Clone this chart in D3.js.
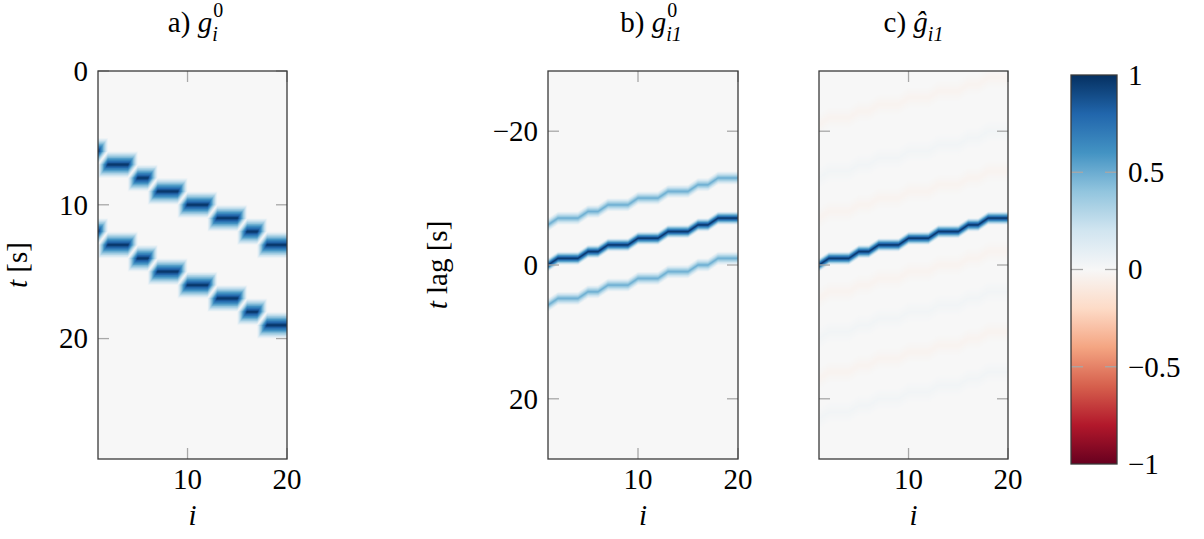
<!DOCTYPE html>
<html>
<head>
<meta charset="utf-8">
<script src="https://cdn.jsdelivr.net/npm/d3@7"></script>
<style>
body { margin: 0; background: #fff; }
svg text { font-family: "Liberation Serif", "DejaVu Serif", serif; fill: #000; }
</style>
</head>
<body>
<div id="chart"></div>
<script>
var width = 1204
var height = 539

// column index i
var cols = [1, 2, 3, 4, 5, 6, 7, 8, 9, 10, 11, 12, 13, 14, 15, 16, 17, 18, 19, 20]
// a) arrival time [s] of the first pulse in each column
var delays = [6, 7, 7, 7, 8, 8, 9, 9, 9, 10, 10, 10, 11, 11, 11, 12, 12, 13, 13, 13]
// the second pulse arrives this much later
var pulseShift = [0, 6]

// b) lag of the main ridge per column
var lagMain = [0, -1, -1, -1, -2, -2, -3, -3, -3, -4, -4, -4, -5, -5, -5, -6, -6, -7, -7, -7]
var ridgeShift = [0, -6, 6]
var ridgePeak = [1, 0.5, 0.5]

// c) estimate: main ridge plus faint ripples
var estShift = [-21, -13, -7, 5, 11, 17, 23, 0]
var estPeak = [-0.03, 0.03, -0.03, -0.03, 0.03, -0.03, 0.03, 1]
var estWidth = [1.6, 1.6, 1.6, 1.6, 1.6, 1.6, 1.6, 1]

var xTicks = [10, 20]
var yTicksA = [0, 10, 20]
var yTicksB = [-20, 0, 20]
var cbTicks = [1, 0.5, 0, -0.5, -1]
var cbLabels = ["1", "0.5", "0", "\u22120.5", "\u22121"]

var svg = d3.select("#chart")
  .append("svg")
    .attr("width", width)
    .attr("height", height)
    .style("font-family", "'Liberation Serif', 'DejaVu Serif', serif")

// RdBu, blue for positive, neutral grey at zero
var rdbu = d3.schemeRdBu[11]
var color = d3.scaleLinear()
  .domain(d3.range(11).map(function(k) { return -1 + k * 0.2 }))
  .range(rdbu)
  .interpolate(d3.interpolateRgb)
var nLev = 16
var levels = d3.range(nLev)

var fs = 29
var tickCol = "#a8a8a8"
var frameCol = "#3a3a3a"

function makePanel(id, x0, x1, y0, y1, ydom) {
  var p = {}
  p.x = d3.scaleLinear().domain([1, 20]).range([x0, x1])
  p.y = d3.scaleLinear().domain(ydom).range([y0, y1])
  svg.append("clipPath").attr("id", id)
    .append("rect").attr("x", x0).attr("y", y0).attr("width", x1 - x0).attr("height", y1 - y0)
  p.g = svg.append("g").attr("clip-path", "url(#" + id + ")")
  p.g.append("rect")
    .attr("x", x0).attr("y", y0).attr("width", x1 - x0).attr("height", y1 - y0)
    .attr("fill", color(0))
  p.x0 = x0; p.x1 = x1; p.y0 = y0; p.y1 = y1
  return p
}

function frame(p, yTicks, showY) {
  var tl = 11
  var t = svg.append("g")
  yTicks.forEach(function(v) {
    var yy = p.y(v)
    t.append("line").attr("x1", p.x0).attr("x2", p.x0 + tl).attr("y1", yy).attr("y2", yy)
      .attr("stroke", tickCol).attr("stroke-width", 1.3)
    t.append("line").attr("x1", p.x1).attr("x2", p.x1 - tl).attr("y1", yy).attr("y2", yy)
      .attr("stroke", tickCol).attr("stroke-width", 1.3)
    if (showY) {
      t.append("text").attr("x", p.x0 - 10).attr("y", yy).attr("dy", "0.34em")
        .attr("text-anchor", "end").style("font-size", fs + "px")
        .text(v < 0 ? "\u2212" + (-v) : v)
    }
  })
  xTicks.forEach(function(v) {
    var xx = p.x(v)
    t.append("line").attr("x1", xx).attr("x2", xx).attr("y1", p.y0).attr("y2", p.y0 + tl)
      .attr("stroke", tickCol).attr("stroke-width", 1.3)
    t.append("line").attr("x1", xx).attr("x2", xx).attr("y1", p.y1).attr("y2", p.y1 - tl)
      .attr("stroke", tickCol).attr("stroke-width", 1.3)
    t.append("text").attr("x", xx).attr("y", p.y1 + 30)
      .attr("text-anchor", "middle").style("font-size", fs + "px").text(v)
  })
  t.append("rect").attr("x", p.x0).attr("y", p.y0)
    .attr("width", p.x1 - p.x0).attr("height", p.y1 - p.y0)
    .attr("fill", "none").attr("stroke", frameCol).attr("stroke-width", 1.3)
  t.append("text").attr("x", (p.x0 + p.x1) / 2).attr("y", 525)
    .attr("text-anchor", "middle").style("font-size", fs + "px").style("font-style", "italic").text("i")
}

function title(cx, label, base, sup, sub) {
  var g = svg.append("g")
  var tx = g.append("text").attr("x", 0).attr("y", 32).style("font-size", fs + "px")
  tx.append("tspan").text(label + " ")
  tx.append("tspan").style("font-style", "italic").text(base)
  var w = tx.node().getComputedTextLength()
  var w2 = 0
  if (sup) {
    var s1 = g.append("text").attr("x", w + 1).attr("y", 17).style("font-size", "20px").text(sup)
    w2 = Math.max(w2, s1.node().getComputedTextLength() + 1)
  }
  if (sub) {
    var s2 = g.append("text").attr("x", w).attr("y", 41).style("font-size", "20px")
      .style("font-style", "italic").text(sub)
    w2 = Math.max(w2, s2.node().getComputedTextLength())
  }
  g.attr("transform", "translate(" + (cx - (w + w2) / 2) + ",0)")
}

// ---- panel a ----
var pa = makePanel("clipA", 98, 287, 71, 459, [0, 29])
var runs = []
cols.forEach(function(c, k) {
  if (k > 0 && delays[k] === delays[k - 1]) runs[runs.length - 1].b = c
  else runs.push({ a: c, b: c, d: delays[k] })
})
pulseShift.forEach(function(sh) {
  runs.forEach(function(r) {
    levels.forEach(function(k) {
      var s = 1 - k / nLev
      var d = r.d + sh
      var pts = [[r.b + s, d], [r.b + s, d - s], [r.a, d - s], [r.a - s, d], [r.a - s, d + s], [r.b, d + s]]
      pa.g.append("path")
        .attr("d", "M" + pts.map(function(q) { return pa.x(q[0]) + "," + pa.y(q[1]) }).join("L") + "Z")
        .attr("fill", color((k + 0.5) / nLev))
    })
  })
})
frame(pa, yTicksA, true)

// ---- ridges as nested bands ----
function ridges(p, shifts, peaks, widths) {
  shifts.forEach(function(sh, j) {
    levels.forEach(function(k) {
      var s = widths[j] * (1 - k / nLev)
      var area = d3.area()
        .x(function(c) { return p.x(c) })
        .y0(function(c, n) { return p.y(lagMain[n] + sh - s) })
        .y1(function(c, n) { return p.y(lagMain[n] + sh + s) })
      p.g.append("path").datum(cols).attr("d", area)
        .attr("fill", color(peaks[j] * (k + 0.5) / nLev))
    })
  })
}

// ---- panel b ----
var pb = makePanel("clipB", 548, 738, 71, 459, [-29, 29])
ridges(pb, ridgeShift, ridgePeak, [1, 1, 1])
frame(pb, yTicksB, true)

// ---- panel c ----
var pc = makePanel("clipC", 819, 1008, 71, 459, [-29, 29])
ridges(pc, estShift, estPeak, estWidth)
frame(pc, yTicksB, false)

// titles
title((pa.x0 + pa.x1) / 2 + 3, "a)", "g", "0", "i")
title((pb.x0 + pb.x1) / 2 + 8, "b)", "g", "0", "i1")
title((pc.x0 + pc.x1) / 2, "c)", "\u011d", null, "i1")

// y axis labels
var yl1 = svg.append("text").attr("transform", "translate(27,265) rotate(-90)")
  .attr("text-anchor", "middle").style("font-size", fs + "px")
yl1.append("tspan").style("font-style", "italic").text("t")
yl1.append("tspan").text(" [s]")
var yl2 = svg.append("text").attr("transform", "translate(447,265) rotate(-90)")
  .attr("text-anchor", "middle").style("font-size", fs + "px")
yl2.append("tspan").style("font-style", "italic").text("t")
yl2.append("tspan").text(" lag [s]")

// ---- colorbar ----
var cb = { x0: 1071, x1: 1117 }
var cy = d3.scaleLinear().domain([-1, 1]).range([464, 75])
var grad = svg.append("defs").append("linearGradient").attr("id", "cbGrad")
  .attr("x1", 0).attr("y1", 1).attr("x2", 0).attr("y2", 0)
d3.range(0, 1.0001, 0.05).forEach(function(f) {
  grad.append("stop").attr("offset", f).attr("stop-color", color(-1 + 2 * f))
})
svg.append("rect").attr("x", cb.x0).attr("y", cy(1))
  .attr("width", cb.x1 - cb.x0).attr("height", cy(-1) - cy(1))
  .attr("fill", "url(#cbGrad)")
cbTicks.forEach(function(v, k) {
  var yy = cy(v)
  if (Math.abs(v) < 1) {
    svg.append("line").attr("x1", cb.x0).attr("x2", cb.x0 + 12).attr("y1", yy).attr("y2", yy)
      .attr("stroke", tickCol).attr("stroke-width", 1.3)
    svg.append("line").attr("x1", cb.x1).attr("x2", cb.x1 - 12).attr("y1", yy).attr("y2", yy)
      .attr("stroke", tickCol).attr("stroke-width", 1.3)
  }
  svg.append("text").attr("x", cb.x1 + 11).attr("y", yy).attr("dy", "0.34em")
    .style("font-size", fs + "px").text(cbLabels[k])
})
svg.append("rect").attr("x", cb.x0).attr("y", cy(1))
  .attr("width", cb.x1 - cb.x0).attr("height", cy(-1) - cy(1))
  .attr("fill", "none").attr("stroke", frameCol).attr("stroke-width", 1.3)
</script>
</body>
</html>
